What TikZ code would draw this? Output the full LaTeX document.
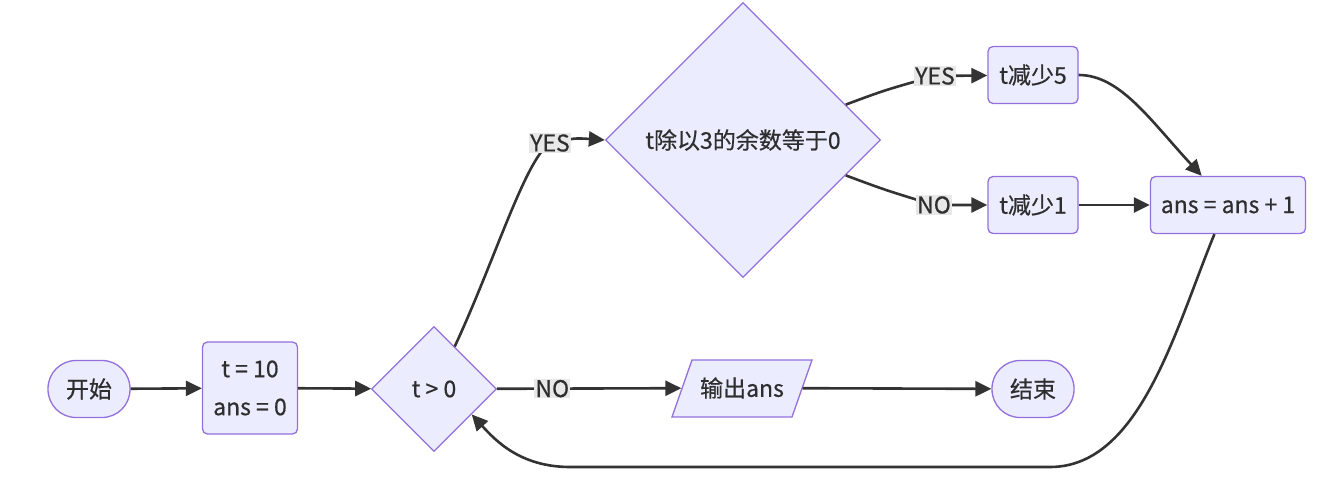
\documentclass[tikz,border=0pt]{standalone}
\usepackage{fontspec}
\setmainfont{Noto Sans CJK SC}[FakeBold=0.6]
\usetikzlibrary{shapes.geometric,arrows.meta}
\definecolor{nodefill}{HTML}{ECECFF}
\definecolor{nodeline}{HTML}{9370DB}
\definecolor{edgeline}{HTML}{333333}
\definecolor{labelfill}{HTML}{E8E8E8}
\definecolor{textcol}{HTML}{2E2E2E}

\begin{document}
\begin{tikzpicture}[x=1pt,y=-1pt,
      every node/.style={draw=nodeline,fill=nodefill,line width=1.3pt,text=textcol,
        font=\fontsize{23}{28}\selectfont,inner sep=0pt},
      terminal/.style={rectangle,rounded corners=28pt,minimum width=82pt,minimum height=57pt},
      procbox/.style={rectangle,rounded corners=5pt,minimum height=57pt},
      decision/.style={diamond,aspect=1},
      ioshape/.style={draw=nodeline,fill=nodefill,line width=1.3pt},
      edgelabel/.style={draw=none,fill=labelfill,inner sep=1pt},
      flow/.style={draw=edgeline,line width=2.6pt,-{Triangle[length=16pt,width=15pt]}}]
    \useasboundingbox (0,0) rectangle (1320,478);

    \node[terminal] (start) at (89,389) {开始};
    \node[procbox,minimum width=95pt,minimum height=92pt,align=center,
      font=\fontsize{23}{38}\selectfont] (init) at (250,388) {t = 10\\ans = 0};
    \node[decision,minimum width=125pt,minimum height=125pt] (chk) at (434,389) {t > 0};
    \node[decision,minimum width=275pt,minimum height=275pt] (mod3) at (743,140) {t除以3的余数等于0};
    \node[procbox,minimum width=90pt] (sub5) at (1033,75) {t减少5};
    \node[procbox,minimum width=90pt] (sub1) at (1033,205) {t减少1};
    \node[procbox,minimum width=155pt] (inc) at (1228,205) {ans = ans + 1};
    \draw[ioshape] (672,417) -- (692,360) -- (812,360) -- (792,417) -- cycle;
    \node[draw=none,fill=none,minimum width=120pt,minimum height=57pt] (out) at (742,388) {输出ans};
    \node[terminal] (stop) at (1033,389) {结束};

    \draw[flow] (start) -- (init);
    \draw[flow] (init) -- (chk);
    \draw[flow] (chk.64) .. controls (495,260) and (525,160) .. (550,143)
      node[edgelabel]{YES} .. controls (575,138) .. (mod3.west);
    \draw[flow] (mod3.19) .. controls (885,90) .. (935,76) node[edgelabel]{YES} -- (sub5);
    \draw[flow] (mod3.-19) .. controls (885,190) .. (934,205) node[edgelabel]{NO} -- (sub1);
    \draw[flow] (sub5.east) .. controls (1120,75) and (1150,120) .. (inc.132);
    \draw[flow] (sub1) -- (inc);
    \draw[flow] (inc.245) .. controls (1175,330) and (1140,467) .. (1050,467) -- (570,467)
      .. controls (520,467) and (495,440) .. (chk.-34);
    \draw[flow] (chk) -- node[edgelabel,pos=0.3]{NO} (out);
    \draw[flow] (out) -- (stop);

\end{tikzpicture}
\end{document}
